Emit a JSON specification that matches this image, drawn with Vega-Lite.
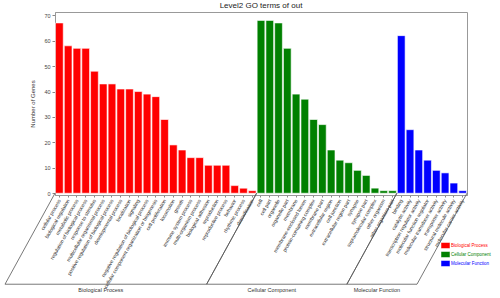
{
  "$schema": "https://vega.github.io/schema/vega-lite/v6.json",
  "width": 412,
  "height": 183,
  "autosize": {"type": "none"},
  "padding": {"left": 55, "top": 12, "right": 33, "bottom": 103},
  "background": "white",
  "title": {"text": "Level2 GO terms of out", "fontSize": 8, "fontWeight": "normal", "color": "#222", "font": "Liberation Sans", "offset": 2},
  "config": {
    "font": "Liberation Sans",
    "view": {"stroke": "#999", "strokeWidth": 1}
  },
  "datasets": {
    "terms": [
      {"term": "cellular process", "category": "Biological Process", "genes": 67},
      {"term": "biological regulation", "category": "Biological Process", "genes": 58},
      {"term": "metabolic process", "category": "Biological Process", "genes": 57},
      {"term": "regulation of biological process", "category": "Biological Process", "genes": 57},
      {"term": "response to stimulus", "category": "Biological Process", "genes": 48},
      {"term": "multicellular organismal process", "category": "Biological Process", "genes": 43},
      {"term": "positive regulation of biological process", "category": "Biological Process", "genes": 43},
      {"term": "developmental process", "category": "Biological Process", "genes": 41},
      {"term": "localization", "category": "Biological Process", "genes": 41},
      {"term": "signaling", "category": "Biological Process", "genes": 40},
      {"term": "negative regulation of biological process", "category": "Biological Process", "genes": 39},
      {"term": "cellular component organization or biogenesis", "category": "Biological Process", "genes": 38},
      {"term": "cell proliferation", "category": "Biological Process", "genes": 29},
      {"term": "locomotion", "category": "Biological Process", "genes": 19},
      {"term": "growth", "category": "Biological Process", "genes": 17},
      {"term": "immune system process", "category": "Biological Process", "genes": 14},
      {"term": "multi-organism process", "category": "Biological Process", "genes": 14},
      {"term": "biological adhesion", "category": "Biological Process", "genes": 11},
      {"term": "reproduction", "category": "Biological Process", "genes": 11},
      {"term": "reproductive process", "category": "Biological Process", "genes": 11},
      {"term": "behavior", "category": "Biological Process", "genes": 3},
      {"term": "rhythmic process", "category": "Biological Process", "genes": 2},
      {"term": "detoxification", "category": "Biological Process", "genes": 1},
      {"term": "cell", "category": "Cellular Component", "genes": 68},
      {"term": "cell part", "category": "Cellular Component", "genes": 68},
      {"term": "organelle", "category": "Cellular Component", "genes": 67},
      {"term": "organelle part", "category": "Cellular Component", "genes": 57},
      {"term": "membrane", "category": "Cellular Component", "genes": 39},
      {"term": "membrane-enclosed lumen", "category": "Cellular Component", "genes": 37},
      {"term": "protein-containing complex", "category": "Cellular Component", "genes": 29},
      {"term": "membrane part", "category": "Cellular Component", "genes": 27},
      {"term": "extracellular region", "category": "Cellular Component", "genes": 17},
      {"term": "cell junction", "category": "Cellular Component", "genes": 13},
      {"term": "extracellular region part", "category": "Cellular Component", "genes": 12},
      {"term": "synapse", "category": "Cellular Component", "genes": 9},
      {"term": "synapse part", "category": "Cellular Component", "genes": 7},
      {"term": "supramolecular complex", "category": "Cellular Component", "genes": 2},
      {"term": "other organism", "category": "Cellular Component", "genes": 1},
      {"term": "other organism part", "category": "Cellular Component", "genes": 1},
      {"term": "binding", "category": "Molecular Function", "genes": 62},
      {"term": "catalytic activity", "category": "Molecular Function", "genes": 25},
      {"term": "transcription regulator activity", "category": "Molecular Function", "genes": 17},
      {"term": "molecular function regulator", "category": "Molecular Function", "genes": 13},
      {"term": "molecular transducer activity", "category": "Molecular Function", "genes": 9},
      {"term": "transporter activity", "category": "Molecular Function", "genes": 8},
      {"term": "structural molecule activity", "category": "Molecular Function", "genes": 4},
      {"term": "molecular carrier activity", "category": "Molecular Function", "genes": 1}
    ],
    "groups": [
      {"group": "Biological Process", "start": 0, "end": 23, "mid": 11.5},
      {"group": "Cellular Component", "start": 23, "end": 39, "mid": 31},
      {"group": "Molecular Function", "start": 39, "end": 47, "mid": 43}
    ]
  },
  "layer": [
    {
      "data": {"name": "terms"},
      "mark": {"type": "bar", "stroke": "white", "strokeWidth": 0.6},
      "encoding": {
        "x": {
          "field": "term", "type": "nominal", "sort": null,
          "scale": {"paddingInner": 0.12, "paddingOuter": 0.06},
          "axis": {
            "title": null, "labelAngle": -60, "labelFontSize": 5, "labelColor": "#333",
            "labelPadding": 2, "labelLimit": 0, "labelOverlap": false, "labelBound": false,
            "tickSize": 2, "tickColor": "#888", "domainColor": "#999"
          }
        },
        "y": {
          "field": "genes", "type": "quantitative",
          "scale": {"domain": [-0.7, 71.3], "nice": false, "zero": false},
          "axis": {
            "title": "Number of Genes", "titleFontSize": 6, "titleFontWeight": "normal", "titleColor": "#333",
            "titlePadding": 8, "values": [0, 10, 20, 30, 40, 50, 60, 70],
            "labelFontSize": 5.5, "labelColor": "#444", "tickSize": 3, "tickColor": "#888",
            "domainColor": "#999", "grid": false, "labelPadding": 2
          }
        },
        "color": {
          "field": "category", "type": "nominal",
          "scale": {"domain": ["Biological Process", "Cellular Component", "Molecular Function"], "range": ["#ff0000", "#008000", "#0000ff"]},
          "legend": {
            "title": null, "orient": "none", "legendX": 387, "legendY": 230,
            "symbolType": "M-1.5,-1H1.5V1H-1.5Z", "symbolSize": 36, "symbolStrokeWidth": 0.5,
            "labelFontSize": 4.5, "labelOffset": 2, "rowPadding": 0, "padding": 0,
            "labelColor": {"expr": "datum.label == 'Biological Process' ? '#ff0000' : datum.label == 'Cellular Component' ? '#008000' : '#0000ff'"}
          }
        }
      }
    },
    {
      "data": {"name": "groups"},
      "layer": [
        {
          "mark": {"type": "rule", "color": "#555", "strokeWidth": 0.8, "x2Offset": -50, "y2Offset": 91},
          "encoding": {
            "x": {"field": "start", "type": "quantitative", "scale": {"domain": [0, 47], "nice": false, "zero": false}, "axis": null},
            "x2": {"field": "start"},
            "y": {"datum": 0, "type": "quantitative", "scale": {"domain": [-0.7, 71.3], "nice": false, "zero": false}, "axis": null},
            "y2": {"datum": 0}
          }
        },
        {
          "mark": {"type": "rule", "color": "#555", "strokeWidth": 0.8, "x2Offset": -50, "y2Offset": 91},
          "encoding": {
            "x": {"field": "end", "type": "quantitative", "scale": {"domain": [0, 47], "nice": false, "zero": false}, "axis": null},
            "x2": {"field": "end"},
            "y": {"datum": 0, "type": "quantitative", "scale": {"domain": [-0.7, 71.3], "nice": false, "zero": false}, "axis": null},
            "y2": {"datum": 0}
          }
        },
        {
          "mark": {"type": "rule", "color": "#555", "strokeWidth": 0.8, "xOffset": -50, "x2Offset": -50, "yOffset": 91},
          "encoding": {
            "x": {"field": "start", "type": "quantitative", "scale": {"domain": [0, 47], "nice": false, "zero": false}, "axis": null},
            "x2": {"field": "end"},
            "y": {"datum": 0, "type": "quantitative", "scale": {"domain": [-0.7, 71.3], "nice": false, "zero": false}, "axis": null}
          }
        },
        {
          "mark": {"type": "text", "color": "#333", "fontSize": 5.5, "xOffset": -55, "yOffset": 97, "baseline": "middle", "align": "center"},
          "encoding": {
            "x": {"field": "mid", "type": "quantitative", "scale": {"domain": [0, 47], "nice": false, "zero": false}, "axis": null},
            "y": {"datum": 0, "type": "quantitative", "scale": {"domain": [-0.7, 71.3], "nice": false, "zero": false}, "axis": null},
            "text": {"field": "group"}
          }
        }
      ]
    }
  ],
  "resolve": {"scale": {"x": "independent", "y": "independent"}, "axis": {"x": "independent", "y": "independent"}}
}
